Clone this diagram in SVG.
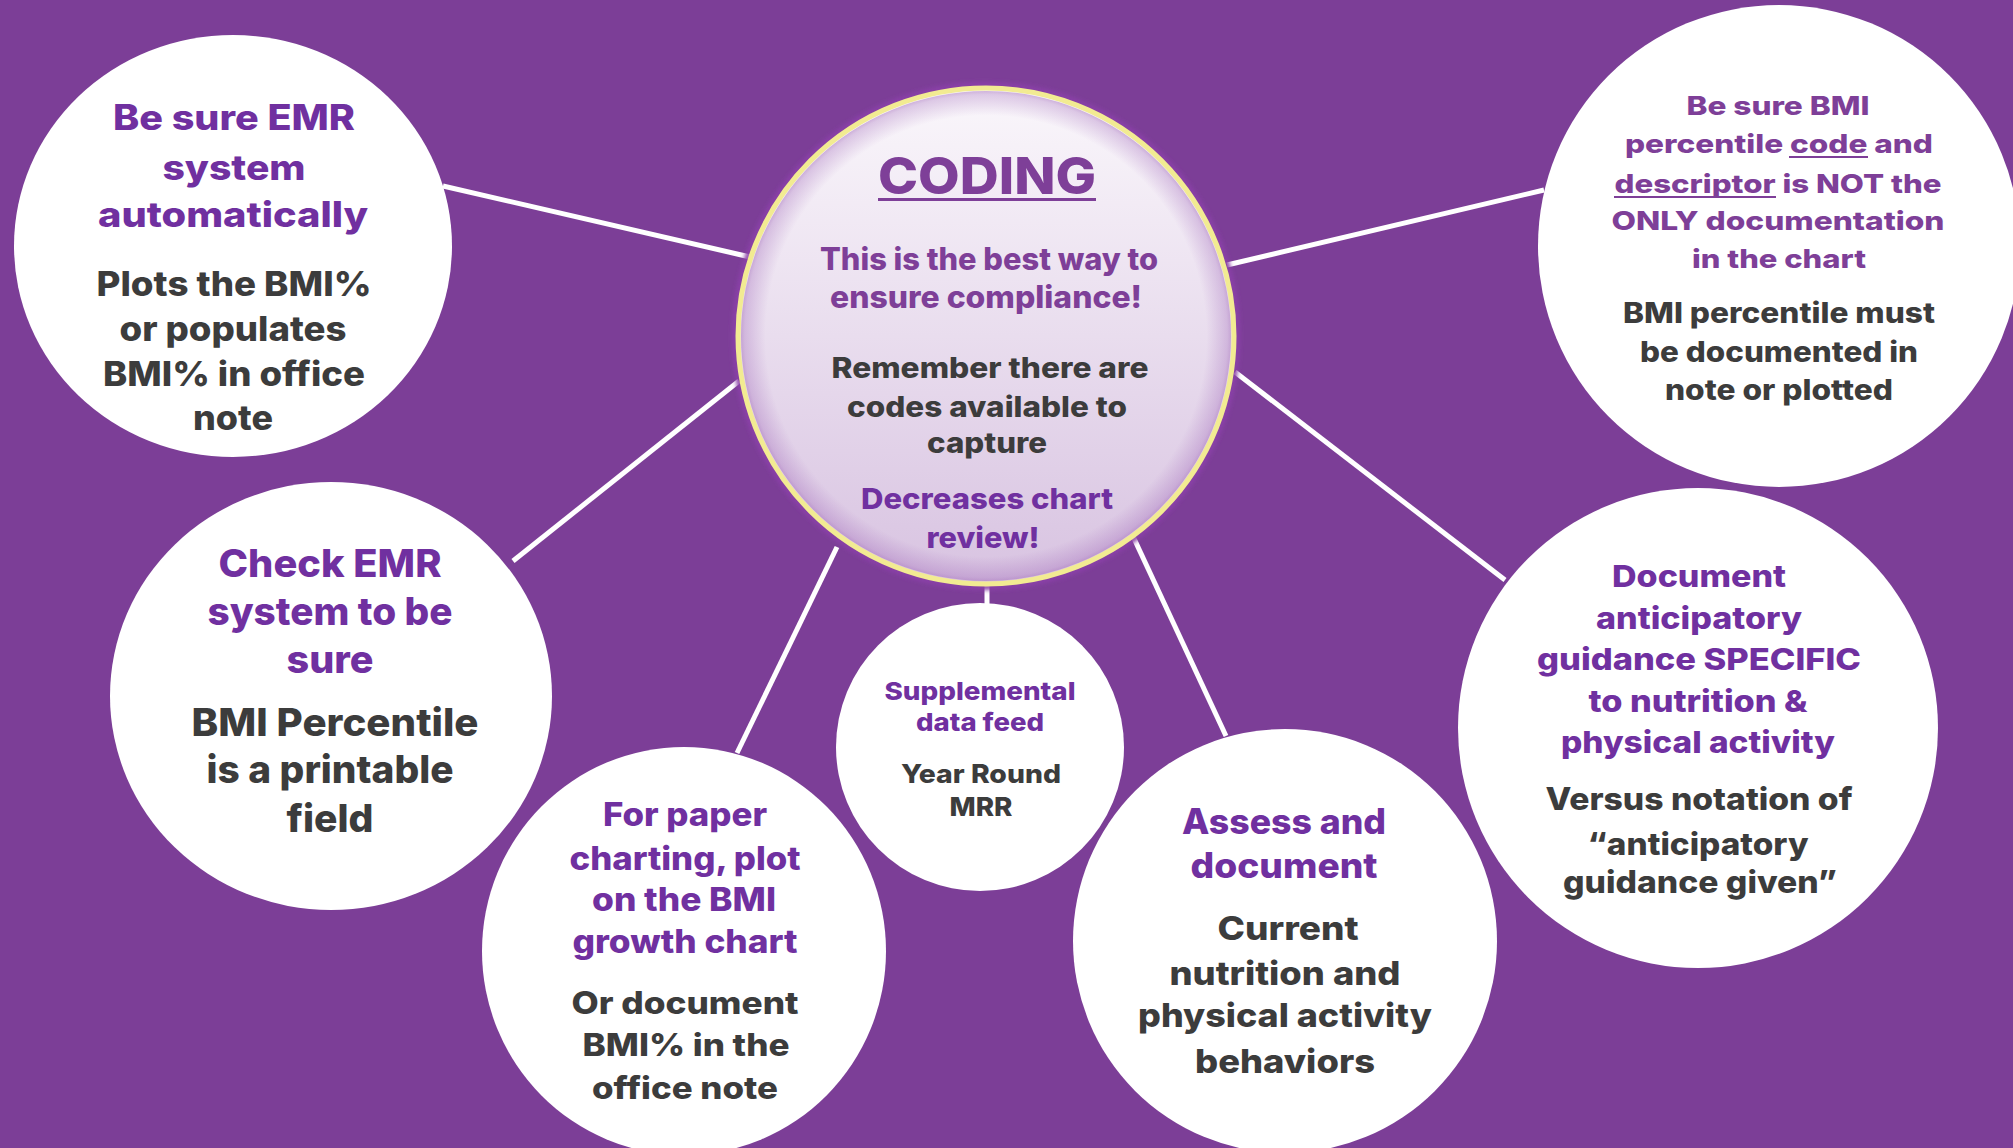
<svg xmlns="http://www.w3.org/2000/svg" width="2013" height="1148" viewBox="0 0 2013 1148">
<defs>
<style>
text{font-family:"Inter","Liberation Sans",sans-serif;font-weight:800;text-anchor:middle}
.h{fill:#7030A0}
.hl{fill:#7E3F98}
.b{fill:#3C3C3C}
.node{fill:#FFFFFF}
.conn{stroke:#FFFFFF;stroke-width:5;fill:none}
</style>
<linearGradient id="cg" x1="0" y1="0" x2="0" y2="1">
<stop offset="0" stop-color="#FAF7FB"/>
<stop offset="1" stop-color="#D8C3E1"/>
</linearGradient>
<radialGradient id="rim" cx="0.5" cy="0.5" r="0.5">
<stop offset="0.9" stop-color="#9A5FB5" stop-opacity="0"/>
<stop offset="0.985" stop-color="#9A5FB5" stop-opacity="0.3"/>
<stop offset="1" stop-color="#9A5FB5" stop-opacity="0.45"/>
</radialGradient>
<filter id="glow" x="-10%" y="-10%" width="120%" height="120%">
<feGaussianBlur stdDeviation="2"/>
</filter>
</defs>
<rect width="2013" height="1148" fill="#7C3E97"/>
<g id="connectors">
<line class="conn" x1="443" y1="186" x2="750" y2="257"/>
<line class="conn" x1="1544" y1="190" x2="1227" y2="265"/>
<line class="conn" x1="513" y1="561" x2="739" y2="381"/>
<line class="conn" x1="837" y1="547" x2="737" y2="753"/>
<line class="conn" x1="987" y1="580" x2="987" y2="605"/>
<line class="conn" x1="1131" y1="532" x2="1226" y2="736"/>
<line class="conn" x1="1235" y1="372" x2="1505" y2="580"/>
</g>
<g id="node-center">
<circle cx="986" cy="336" r="251" fill="none" stroke="#8A3FA8" stroke-width="6" filter="url(#glow)"/>
<circle cx="986" cy="336" r="248" fill="url(#cg)" stroke="#F2EB92" stroke-width="5"/>
<circle cx="986" cy="336" r="245" fill="url(#rim)"/>
<text class="hl" x="987" y="194" font-size="51" textLength="218" lengthAdjust="spacingAndGlyphs">CODING</text>
<rect x="878" y="198" width="218" height="3" fill="#7E3F98"/>
<text class="hl" x="989" y="270" font-size="31" textLength="338" lengthAdjust="spacingAndGlyphs">This is the best way to</text>
<text class="hl" x="986" y="308" font-size="31" textLength="312" lengthAdjust="spacingAndGlyphs">ensure  compliance!</text>
<text class="b" x="990" y="378" font-size="28" textLength="317" lengthAdjust="spacingAndGlyphs">Remember there are</text>
<text class="b" x="987" y="417" font-size="28" textLength="280" lengthAdjust="spacingAndGlyphs">codes available to</text>
<text class="b" x="987" y="453" font-size="28" textLength="120" lengthAdjust="spacingAndGlyphs">capture</text>
<text class="h" x="987" y="509" font-size="29" textLength="252" lengthAdjust="spacingAndGlyphs">Decreases chart</text>
<text class="h" x="983" y="548" font-size="29" textLength="113" lengthAdjust="spacingAndGlyphs">review!</text>
</g>
<g id="node-emr-auto">
<ellipse class="node" cx="233" cy="246" rx="219" ry="211"/>
<text class="h" x="234" y="130" font-size="35" textLength="242" lengthAdjust="spacingAndGlyphs">Be sure EMR</text>
<text class="h" x="234" y="180" font-size="35" textLength="143" lengthAdjust="spacingAndGlyphs">system</text>
<text class="h" x="233" y="227" font-size="35" textLength="270" lengthAdjust="spacingAndGlyphs">automatically</text>
<text class="b" x="234" y="296" font-size="34" textLength="275" lengthAdjust="spacingAndGlyphs">Plots the BMI%</text>
<text class="b" x="233" y="341" font-size="34" textLength="227" lengthAdjust="spacingAndGlyphs">or populates</text>
<text class="b" x="234" y="386" font-size="34" textLength="262" lengthAdjust="spacingAndGlyphs">BMI% in office</text>
<text class="b" x="233" y="430" font-size="34" textLength="80" lengthAdjust="spacingAndGlyphs">note</text>
</g>
<g id="node-bmi-code">
<circle class="node" cx="1779" cy="246" r="241"/>
<text class="hl" x="1778" y="115" font-size="26" textLength="183" lengthAdjust="spacingAndGlyphs">Be sure BMI</text>
<text class="hl" x="1779" y="153" font-size="26" textLength="308" lengthAdjust="spacingAndGlyphs">percentile code and</text>
<text class="hl" x="1778" y="193" font-size="26" textLength="327" lengthAdjust="spacingAndGlyphs">descriptor is NOT the</text>
<text class="hl" x="1778" y="230" font-size="26" textLength="333" lengthAdjust="spacingAndGlyphs">ONLY documentation</text>
<text class="hl" x="1779" y="268" font-size="26" textLength="174" lengthAdjust="spacingAndGlyphs">in the chart</text>
<rect x="1789" y="156" width="79" height="2" fill="#7E3F98"/>
<rect x="1614" y="196" width="162" height="2" fill="#7E3F98"/>
<text class="b" x="1779" y="323" font-size="28" textLength="312" lengthAdjust="spacingAndGlyphs">BMI percentile must</text>
<text class="b" x="1779" y="362" font-size="28" textLength="278" lengthAdjust="spacingAndGlyphs">be documented in</text>
<text class="b" x="1779" y="400" font-size="28" textLength="228" lengthAdjust="spacingAndGlyphs">note or plotted</text>
</g>
<g id="node-emr-check">
<ellipse class="node" cx="331" cy="696" rx="221" ry="214"/>
<text class="h" x="330" y="577" font-size="38" textLength="223" lengthAdjust="spacingAndGlyphs">Check EMR</text>
<text class="h" x="330" y="625" font-size="38" textLength="245" lengthAdjust="spacingAndGlyphs">system to be</text>
<text class="h" x="330" y="673" font-size="38" textLength="87" lengthAdjust="spacingAndGlyphs">sure</text>
<text class="b" x="335" y="736" font-size="38" textLength="287" lengthAdjust="spacingAndGlyphs">BMI Percentile</text>
<text class="b" x="330" y="783" font-size="38" textLength="247" lengthAdjust="spacingAndGlyphs">is a printable</text>
<text class="b" x="330" y="832" font-size="38" textLength="87" lengthAdjust="spacingAndGlyphs">field</text>
</g>
<g id="node-paper">
<ellipse class="node" cx="684" cy="951" rx="202" ry="204"/>
<text class="h" x="685" y="826" font-size="32" textLength="164" lengthAdjust="spacingAndGlyphs">For paper</text>
<text class="h" x="685" y="870" font-size="32" textLength="231" lengthAdjust="spacingAndGlyphs">charting, plot</text>
<text class="h" x="684" y="911" font-size="32" textLength="184" lengthAdjust="spacingAndGlyphs">on the BMI</text>
<text class="h" x="685" y="953" font-size="32" textLength="225" lengthAdjust="spacingAndGlyphs">growth chart</text>
<text class="b" x="685" y="1014" font-size="31" textLength="227" lengthAdjust="spacingAndGlyphs">Or document</text>
<text class="b" x="686" y="1056" font-size="31" textLength="207" lengthAdjust="spacingAndGlyphs">BMI% in the</text>
<text class="b" x="685" y="1099" font-size="31" textLength="186" lengthAdjust="spacingAndGlyphs">office note</text>
</g>
<g id="node-supplemental">
<circle class="node" cx="980" cy="747" r="144"/>
<text class="h" x="980" y="700" font-size="25" textLength="191" lengthAdjust="spacingAndGlyphs">Supplemental</text>
<text class="h" x="980" y="731" font-size="25" textLength="128" lengthAdjust="spacingAndGlyphs">data feed</text>
<text class="b" x="981" y="783" font-size="26" textLength="160" lengthAdjust="spacingAndGlyphs">Year Round</text>
<text class="b" x="981" y="816" font-size="26" textLength="63" lengthAdjust="spacingAndGlyphs">MRR</text>
</g>
<g id="node-assess">
<circle class="node" cx="1285" cy="941" r="212"/>
<text class="h" x="1284" y="834" font-size="35" textLength="204" lengthAdjust="spacingAndGlyphs">Assess and</text>
<text class="h" x="1284" y="878" font-size="35" textLength="187" lengthAdjust="spacingAndGlyphs">document</text>
<text class="b" x="1288" y="940" font-size="33" textLength="141" lengthAdjust="spacingAndGlyphs">Current</text>
<text class="b" x="1285" y="985" font-size="33" textLength="231" lengthAdjust="spacingAndGlyphs">nutrition and</text>
<text class="b" x="1285" y="1027" font-size="33" textLength="294" lengthAdjust="spacingAndGlyphs">physical activity</text>
<text class="b" x="1285" y="1073" font-size="33" textLength="180" lengthAdjust="spacingAndGlyphs">behaviors</text>
</g>
<g id="node-guidance">
<circle class="node" cx="1698" cy="728" r="240"/>
<text class="h" x="1699" y="587" font-size="30" textLength="174" lengthAdjust="spacingAndGlyphs">Document</text>
<text class="h" x="1699" y="629" font-size="30" textLength="206" lengthAdjust="spacingAndGlyphs">anticipatory</text>
<text class="h" x="1699" y="670" font-size="30" textLength="324" lengthAdjust="spacingAndGlyphs">guidance SPECIFIC</text>
<text class="h" x="1698" y="712" font-size="30" textLength="219" lengthAdjust="spacingAndGlyphs">to nutrition &amp;</text>
<text class="h" x="1698" y="753" font-size="30" textLength="274" lengthAdjust="spacingAndGlyphs">physical activity</text>
<text class="b" x="1699" y="810" font-size="31" textLength="307" lengthAdjust="spacingAndGlyphs">Versus notation of</text>
<text class="b" x="1698" y="855" font-size="31" textLength="221" lengthAdjust="spacingAndGlyphs">“anticipatory</text>
<text class="b" x="1700" y="893" font-size="31" textLength="274" lengthAdjust="spacingAndGlyphs">guidance given”</text>
</g>
</svg>
